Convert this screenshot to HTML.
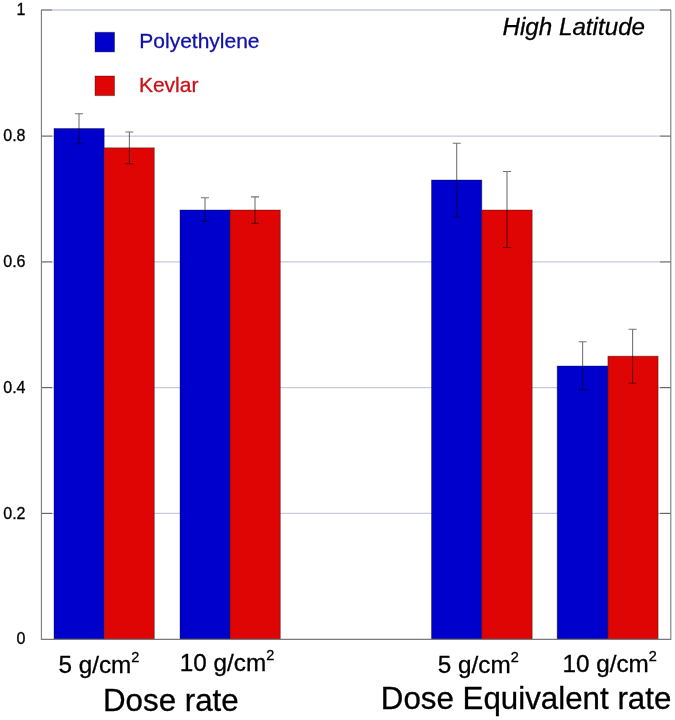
<!DOCTYPE html>
<html>
<head>
<meta charset="utf-8">
<style>
html,body{margin:0;padding:0;background:#fff;width:675px;height:720px;overflow:hidden;}
svg{display:block;will-change:transform;font-family:"Liberation Sans", sans-serif;}
</style>
</head>
<body>
<svg width="675" height="720" viewBox="0 0 675 720">
  <rect x="0" y="0" width="675" height="720" fill="#fff"/>
  <!-- gridlines -->
  <g stroke="#c9c9e2" stroke-width="1.3">
    <line x1="52" y1="10" x2="660" y2="10"/>
    <line x1="52" y1="136.1" x2="660" y2="136.1"/>
    <line x1="52" y1="261.9" x2="660" y2="261.9"/>
    <line x1="52" y1="387.6" x2="660" y2="387.6"/>
    <line x1="52" y1="513.4" x2="660" y2="513.4"/>
  </g>
  <!-- ticks -->
  <g stroke="#666" stroke-width="1.2">
    <line x1="41" y1="10" x2="52" y2="10"/>
    <line x1="41" y1="136.1" x2="52" y2="136.1"/>
    <line x1="41" y1="261.9" x2="52" y2="261.9"/>
    <line x1="41" y1="387.6" x2="52" y2="387.6"/>
    <line x1="41" y1="513.4" x2="52" y2="513.4"/>
    <line x1="660" y1="10" x2="671" y2="10"/>
    <line x1="660" y1="136.1" x2="671" y2="136.1"/>
    <line x1="660" y1="261.9" x2="671" y2="261.9"/>
    <line x1="660" y1="387.6" x2="671" y2="387.6"/>
    <line x1="660" y1="513.4" x2="671" y2="513.4"/>
  </g>
  <!-- bars -->
  <g stroke="#000" stroke-opacity="0.35" stroke-width="1">
    <rect x="54" y="128.5" width="50.2" height="510.8" fill="#0000cc"/>
    <rect x="104.2" y="147.8" width="50.1" height="491.5" fill="#df0505"/>
    <rect x="180" y="210" width="50" height="429.3" fill="#0000cc"/>
    <rect x="230" y="210" width="50.3" height="429.3" fill="#df0505"/>
    <rect x="431.5" y="180" width="50.3" height="459.3" fill="#0000cc"/>
    <rect x="481.8" y="210" width="50.4" height="429.3" fill="#df0505"/>
    <rect x="557.2" y="366" width="50.7" height="273.3" fill="#0000cc"/>
    <rect x="607.9" y="356.2" width="50.2" height="283.1" fill="#df0505"/>
  </g>
  <!-- error bars -->
  <g stroke="#000" stroke-opacity="0.55" stroke-width="1.1" fill="none">
    <path d="M79 113.7V143.7M75 113.7H83M75 143.7H83"/>
    <path d="M129.4 132V163.7M125.4 132H133.4M125.4 163.7H133.4"/>
    <path d="M205 197.7V221.4M201 197.7H209M201 221.4H209"/>
    <path d="M255 196.9V223.4M251 196.9H259M251 223.4H259"/>
    <path d="M456.7 143.2V216.8M452.7 143.2H460.7M452.7 216.8H460.7"/>
    <path d="M507 171.5V247.5M503 171.5H511M503 247.5H511"/>
    <path d="M582.6 341.8V389.9M578.6 341.8H586.6M578.6 389.9H586.6"/>
    <path d="M632.6 329.3V383.2M628.6 329.3H636.6M628.6 383.2H636.6"/>
  </g>
  <!-- axes frame -->
  <g stroke="#7a7a7a" stroke-width="1.1" fill="none">
    <path d="M41.4 10V639.4H670.8V10"/>
  </g>
  <!-- y labels -->
  <g font-size="16" fill="#000" stroke="#000" stroke-width="0.3" text-anchor="end">
    <text x="25.5" y="15.3">1</text>
    <text x="25.5" y="141.1">0.8</text>
    <text x="25.5" y="266.9">0.6</text>
    <text x="25.5" y="392.7">0.4</text>
    <text x="25.5" y="518.5">0.2</text>
    <text x="25.5" y="644.3">0</text>
  </g>
  <!-- x labels -->
  <g font-size="24.3" fill="#000" stroke="#000" stroke-width="0.3">
    <text x="58.4" y="672.5">5 g/cm<tspan font-size="14.5" dy="-11">2</tspan></text>
    <text x="179.8" y="670.7">10 g/cm<tspan font-size="14.5" dy="-11">2</tspan></text>
    <text x="437.8" y="672.5">5 g/cm<tspan font-size="14.5" dy="-11">2</tspan></text>
    <text x="562.4" y="672.3">10 g/cm<tspan font-size="14.5" dy="-11">2</tspan></text>
  </g>
  <g font-size="31.3" fill="#000" stroke="#000" stroke-width="0.3">
    <text x="103" y="711">Dose rate</text>
    <text x="380.8" y="709">Dose Equivalent rate</text>
  </g>
  <!-- legend -->
  <g stroke="#000" stroke-opacity="0.35" stroke-width="1">
    <rect x="95" y="32.3" width="19.5" height="19.6" fill="#0000cc"/>
    <rect x="95" y="76" width="19.5" height="19.6" fill="#df0505"/>
  </g>
  <text x="139.3" y="47.9" font-size="21" fill="#1212aa" stroke="#1212aa" stroke-width="0.3">Polyethylene</text>
  <text x="138.9" y="91.9" font-size="21" fill="#c8121a" stroke="#c8121a" stroke-width="0.3">Kevlar</text>
  <text x="502.5" y="34.6" font-size="24.2" font-style="italic" fill="#000" stroke="#000" stroke-width="0.3">High Latitude</text>
</svg>
</body>
</html>
